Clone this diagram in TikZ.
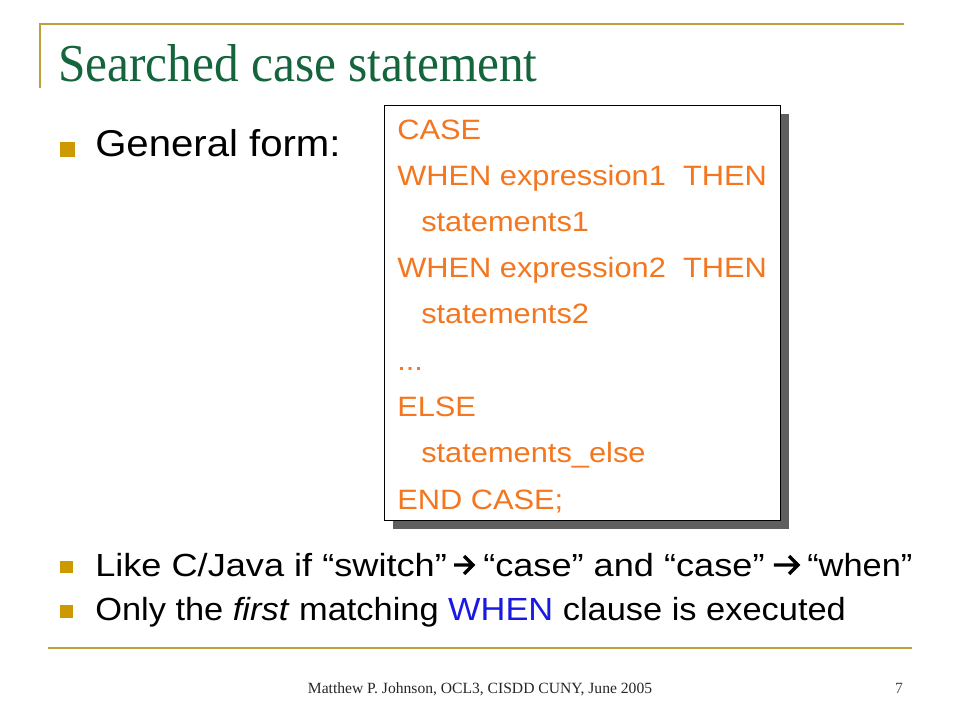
\documentclass[tikz,border=0pt]{standalone}
\usepackage{fontspec}
\usetikzlibrary{calc}
\setmainfont{Liberation Sans}
\newfontfamily\serifft{Liberation Serif}
\newfontfamily\titleft[FakeStretch=0.925]{Liberation Serif}
\newfontfamily\bodyft[FakeStretch=1.075]{Liberation Sans}
\newfontfamily\likeft[FakeStretch=1.13]{Liberation Sans}
\newfontfamily\codeft[FakeStretch=1.1]{Liberation Sans}
\definecolor{titlegreen}{RGB}{20,100,60}
\definecolor{rulegold}{RGB}{190,160,60}
\definecolor{bulletgold}{RGB}{204,153,0}
\definecolor{codeorange}{RGB}{244,118,30}
\definecolor{whenblue}{RGB}{25,25,225}
\definecolor{shadowgray}{RGB}{95,95,95}
\tikzset{
  rule/.style={draw=rulegold, line width=1.5pt},
  bulletsq/.style={fill=bulletgold},
  codeline/.style={anchor=base west, inner sep=0pt, text=codeorange, font=\codeft\fontsize{21}{25}\selectfont},
  bodyline/.style={anchor=base west, inner sep=0pt, text=black, font=\bodyft\fontsize{24}{29}\selectfont},
  likeline/.style={anchor=base west, inner sep=0pt, text=black, font=\likeft\fontsize{24}{29}\selectfont},
  wdarrow/.style={draw=black, line width=2.5pt, line cap=butt, line join=miter},
}
\begin{document}
\begin{tikzpicture}[x=0.75pt,y=-0.75pt]
\useasboundingbox (0,0) rectangle (960,720);
% decorative rules
\draw[rule] (40,88) -- (40,24) -- (904,24);
\draw[rule] (48,648) -- (912,648);
% title
\node[anchor=base west, inner sep=0pt, text=titlegreen, font=\titleft\fontsize{40}{48}\selectfont] (title) at (58,82) {Searched case statement};
% first bullet
\fill[bulletsq] (60,142) rectangle (75,157);
\node[anchor=base west, inner sep=0pt, font=\bodyft\fontsize{28}{34}\selectfont] (general) at (95,157) {General form:};
% code box with shadow
\fill[shadowgray] (393,114) rectangle (789,529);
\node[draw=black, fill=white, line width=0.75pt, anchor=north west, inner sep=0pt, minimum width=297pt, minimum height=311.25pt] (codebox) at (384,105) {};
\node[codeline] (l1) at (397,140) {CASE};
\node[codeline] (l2) at (397,186) {WHEN expression1\ \ THEN};
\node[codeline] (l3) at (421,232) {statements1};
\node[codeline] (l4) at (397,278) {WHEN expression2\ \ THEN};
\node[codeline] (l5) at (421,324) {statements2};
\node[codeline] (l6) at (397,370) {...};
\node[codeline] (l7) at (397,416) {ELSE};
\node[codeline] (l8) at (421,462) {statements\_else};
\node[codeline] (l9) at (397,509) {END CASE;};
% lower bullets
\fill[bulletsq] (60,561) rectangle (73,573);
\node[likeline] (like1) at (95,576) {Like C/Java if “switch”};
\node[likeline] (like2) at (483,576) {“case” and “case”};
\node[bodyline] (like3) at (807,576) {“when”};
\coordinate (a1s) at ($(like1.base east)+(7,-11)$);
\coordinate (a1e) at ($(like2.base west)+(-10,-11)$);
\draw[wdarrow] (a1s) -- (a1e) ($(a1e)+(-9,-9)$) -- (a1e) -- ($(a1e)+(-9,9)$);
\coordinate (a2s) at ($(like2.base east)+(9,-11)$);
\coordinate (a2e) at ($(like3.base west)+(-9,-11)$);
\draw[wdarrow] (a2s) -- (a2e) ($(a2e)+(-9,-9)$) -- (a2e) -- ($(a2e)+(-9,9)$);
\fill[bulletsq] (60,605) rectangle (73,618);
\node[bodyline] (only) at (95,620) {Only the \textit{first} matching {\color{whenblue}WHEN} clause is executed};
% footer
\node[anchor=base, inner sep=0pt, text=black!85, font=\serifft\fontsize{11.7}{14}\selectfont] (footer) at (480,693) {Matthew P. Johnson, OCL3, CISDD CUNY, June 2005};
\node[anchor=base, inner sep=0pt, text=black!70, font=\serifft\fontsize{11.7}{14}\selectfont] (pagenum) at (899,693) {7};
\end{tikzpicture}
\end{document}
